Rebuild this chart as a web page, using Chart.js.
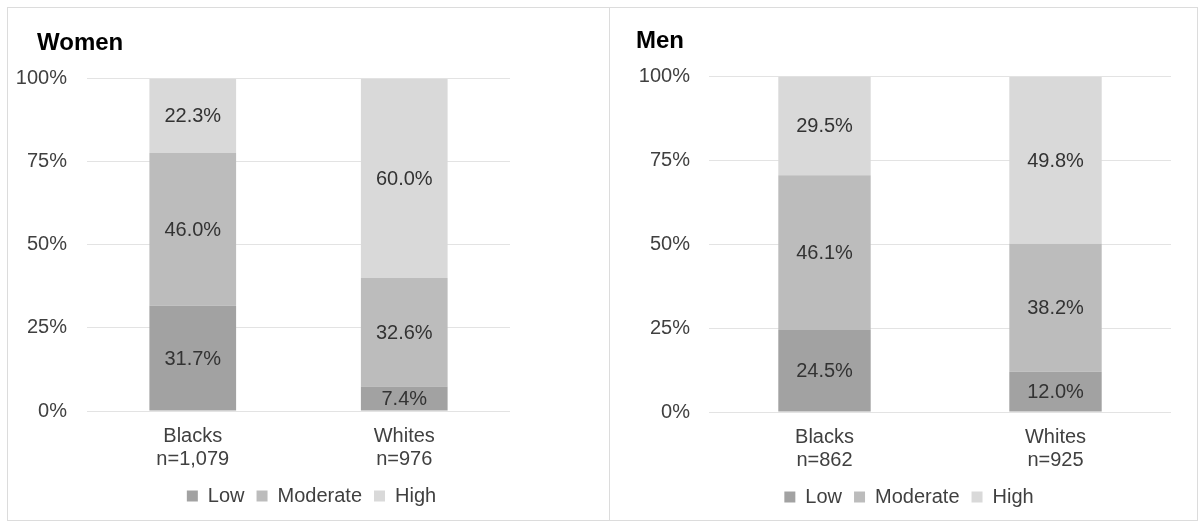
<!DOCTYPE html>
<html>
<head>
<meta charset="utf-8">
<script src="https://cdn.jsdelivr.net/npm/chart.js@4.4.0/dist/chart.umd.min.js"></script>
<style>
  html, body { margin: 0; padding: 0; background: #ffffff; width: 1200px; height: 521px; overflow: hidden; }
  .panel { position: absolute; top: 7px; background: #fff; border: 1px solid #dcdcdc; box-sizing: content-box; }
  #p1 { left: 7px; width: 601px; height: 512px; }
  #p2 { left: 610px; width: 587px; height: 512px; border-left: none; }
  canvas { display: block; }
</style>
</head>
<body>
<div class="panel" id="p1"><canvas id="c1" width="601" height="512"></canvas></div>
<div class="panel" id="p2"><canvas id="c2" width="587" height="512"></canvas></div>
<script>
// ---- data ----
const seriesNames = ['Low', 'Moderate', 'High'];
const womenCategories = [['Blacks', 'n=1,079'], ['Whites', 'n=976']];
const womenLow = [31.7, 7.4];
const womenModerate = [46.0, 32.6];
const womenHigh = [22.3, 60.0];
const menCategories = [['Blacks', 'n=862'], ['Whites', 'n=925']];
const menLow = [24.5, 12.0];
const menModerate = [46.1, 38.2];
const menHigh = [29.5, 49.8];
const yTicks = [0, 25, 50, 75, 100];

const seriesColors = ['#a2a2a2', '#bcbcbc', '#d9d9d9'];
const FONT = "'Liberation Sans', Arial, Helvetica, sans-serif";

const valueLabels = {
  id: 'valueLabels',
  afterDatasetsDraw(chart) {
    const ctx = chart.ctx;
    ctx.save();
    ctx.font = '20px ' + FONT;
    ctx.fillStyle = '#333333';
    ctx.textAlign = 'center';
    ctx.textBaseline = 'middle';
    chart.data.datasets.forEach((ds, i) => {
      const meta = chart.getDatasetMeta(i);
      meta.data.forEach((el, j) => {
        const v = ds.data[j];
        const yc = (el.y + el.base) / 2;
        ctx.fillText(v.toFixed(1) + '%', el.x, yc + 1);
      });
    });
    ctx.restore();
  }
};

// indents the chart title relative to the layout box
const titleIndent = {
  id: 'titleIndent',
  afterLayout(chart, args, opts) {
    const t = chart.titleBlock;
    if (t && opts.dx) { t.left += opts.dx; }
  }
};

function makeChart(id, title, cats, low, mod, high, cfg) {
  const data = [low, mod, high];
  return new Chart(document.getElementById(id), {
    type: 'bar',
    data: {
      labels: cats,
      datasets: seriesNames.map((n, i) => ({
        label: n,
        data: data[i],
        backgroundColor: seriesColors[i],
        borderWidth: 0,
        categoryPercentage: 1.0,
        barPercentage: cfg.barPct
      }))
    },
    options: {
      responsive: false,
      animation: false,
      devicePixelRatio: 1,
      layout: { padding: { left: cfg.padL, right: cfg.padR, top: cfg.padT, bottom: cfg.padB } },
      plugins: {
        titleIndent: { dx: cfg.titleDx },
        title: {
          display: true, text: title, align: 'start', color: '#000000',
          font: { family: FONT, size: 24, weight: 'bold' },
          padding: { top: 0, bottom: cfg.titleB }
        },
        legend: {
          position: 'bottom',
          labels: {
            boxWidth: 11, boxHeight: 11, padding: 12, color: '#404040',
            font: { family: FONT, size: 20 }
          }
        },
        tooltip: { enabled: false }
      },
      scales: {
        x: {
          stacked: true,
          afterFit(s) { s.height = cfg.xH; },
          grid: { display: false, drawTicks: false },
          border: { display: false },
          ticks: { color: '#404040', font: { family: FONT, size: 20, lineHeight: 1.15 }, padding: 14, maxRotation: 0 }
        },
        y: {
          stacked: true, min: 0, max: 100,
          afterBuildTicks(s) { s.ticks = yTicks.map(v => ({ value: v })); },
          afterFit(s) { s.width = cfg.yW; },
          grid: { color: '#e3e3e3', lineWidth: 1, drawTicks: false },
          border: { display: false },
          ticks: { color: '#404040', font: { family: FONT, size: 20 }, padding: cfg.yPad, callback: v => v + '%' }
        },
        y2: {
          type: 'linear', position: 'right', display: true,
          grid: { display: false, drawTicks: false },
          border: { display: false },
          ticks: { display: false },
          afterFit(s) { s.width = cfg.rW; }
        }
      }
    },
    plugins: [valueLabels, titleIndent]
  });
}

makeChart('c1', 'Women', womenCategories, womenLow, womenModerate, womenHigh,
  { barPct: 0.41, padL: 6, padR: 0, padT: 21, padB: 4, titleB: 21, titleDx: 23, yW: 73, yPad: 20, rW: 99, xH: 63 });
makeChart('c2', 'Men', menCategories, menLow, menModerate, menHigh,
  { barPct: 0.40, padL: 26, padR: 15, padT: 19, padB: 3, titleB: 21, titleDx: 0, yW: 73, yPad: 19, rW: 11, xH: 63 });
</script>
</body>
</html>
